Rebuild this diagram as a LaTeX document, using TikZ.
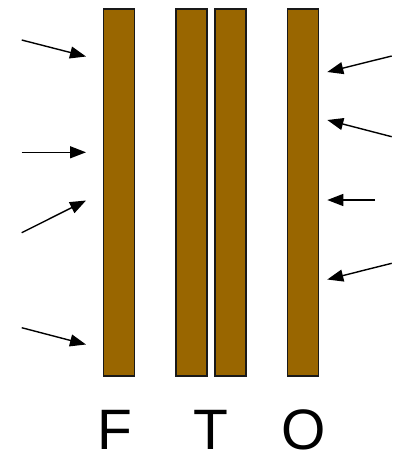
\documentclass[tikz,border=0pt]{standalone}
\usepackage{fontspec}
\setmainfont{Liberation Sans}
\usetikzlibrary{arrows.meta}
\definecolor{barbrown}{RGB}{153,102,0}
\tikzset{
  bar/.style={draw=black!90, line width=1.6pt, fill=barbrown, minimum width=31pt, minimum height=367pt, inner sep=0pt, anchor=north west},
  ray/.style={line width=1.4pt, -{Triangle[length=16pt,width=12pt]}},
  lbl/.style={font=\fontsize{57}{60}\selectfont, anchor=base, inner sep=0pt}
}
\begin{document}
\begin{tikzpicture}[x=1pt,y=-1pt]
\useasboundingbox (0,0) rectangle (398,453);
\node[bar] (F) at (102.7,8.3) {};
\node[bar] (T1) at (175,8.3) {};
\node[bar] (T2) at (214.3,8.3) {};
\node[bar] (O) at (286.7,8.3) {};
\node[lbl] (lF) at (115,449) {F};
\node[lbl] (lT) at (211,449) {T};
\node[lbl] (lO) at (303.5,449) {O};
% left rays
\coordinate (a1s) at (21.7,40); \coordinate (a1e) at (86,56.5);
\coordinate (a2s) at (21.7,152.3); \coordinate (a2e) at (86,152.3);
\coordinate (a3s) at (21.7,232.7); \coordinate (a3e) at (86,200.5);
\coordinate (a4s) at (21.7,327.7); \coordinate (a4e) at (86,344.5);
\draw[ray] (a1s) -- (a1e);
\draw[ray] (a2s) -- (a2e);
\draw[ray] (a3s) -- (a3e);
\draw[ray] (a4s) -- (a4e);
% right rays
\coordinate (b1s) at (391.7,56); \coordinate (b1e) at (327.3,72);
\coordinate (b2s) at (391.7,136.7); \coordinate (b2e) at (327.3,120);
\coordinate (b3s) at (375,200); \coordinate (b3e) at (327.3,200);
\coordinate (b4s) at (391.7,263.3); \coordinate (b4e) at (327.3,279.5);
\draw[ray] (b1s) -- (b1e);
\draw[ray] (b2s) -- (b2e);
\draw[ray] (b3s) -- (b3e);
\draw[ray] (b4s) -- (b4e);
\end{tikzpicture}
\end{document}
